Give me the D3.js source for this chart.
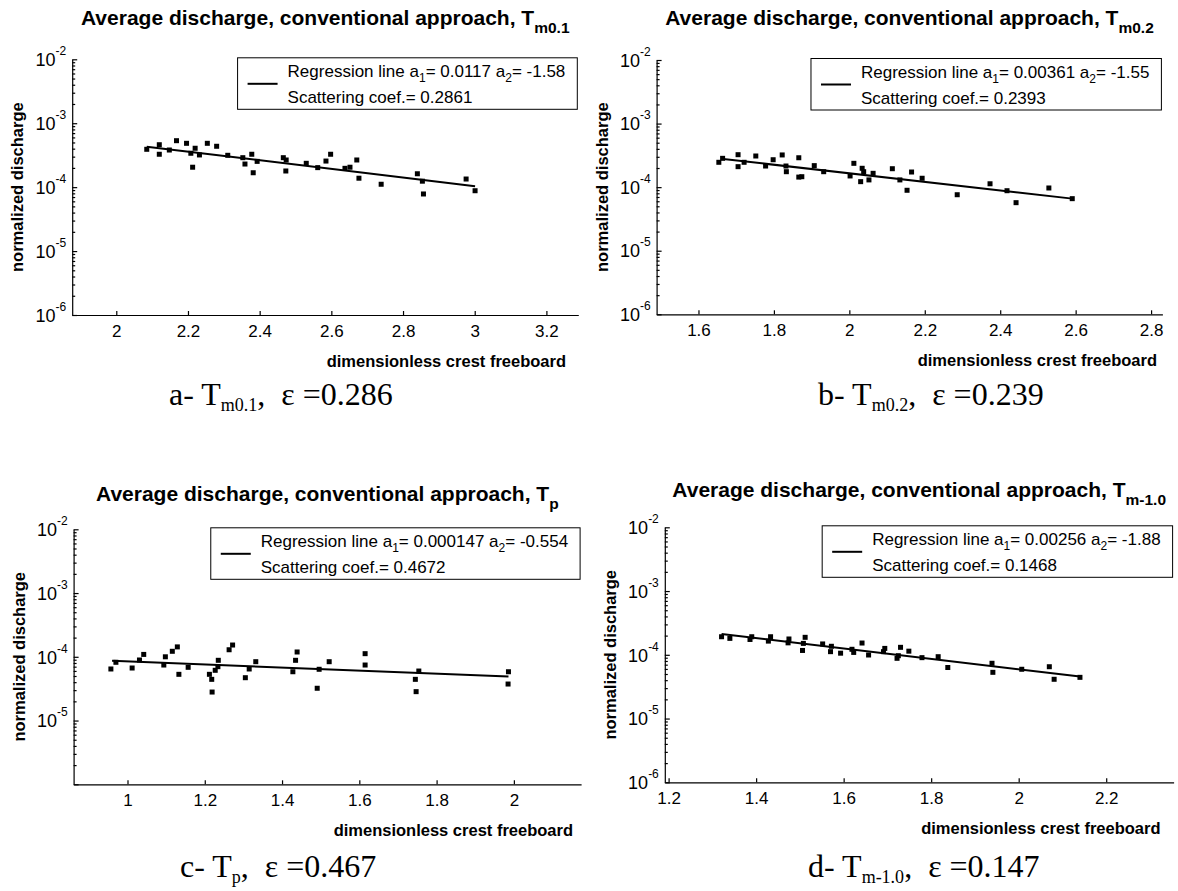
<!DOCTYPE html>
<html>
<head>
<meta charset="utf-8">
<script src="https://cdn.jsdelivr.net/npm/d3@7"></script>
<style>
body { margin: 0; background: #fff; }
svg text { font-family: Arial, "Liberation Sans", sans-serif; fill: #000; }
svg text.caption { font-family: "Liberation Serif", "DejaVu Serif", serif; }
</style>
</head>
<body>
<svg id="chart" width="1178" height="891"></svg>
<script>
// labels per panel (a, b, c, d)
var captionLetters = ["a", "b", "c", "d"]
var periodSubs = ["m0.1", "m0.2", "p", "m-1.0"]
var epsilonValues = ["0.286", "0.239", "0.467", "0.147"]
var a1Values = ["0.0117", "0.00361", "0.000147", "0.00256"]
var a2Values = ["-1.58", "-1.55", "-0.554", "-1.88"]
var scatterValues = ["0.2861", "0.2393", "0.4672", "0.1468"]

// x tick values
var xTicksA = [2, 2.2, 2.4, 2.6, 2.8, 3, 3.2]
var xTicksB = [1.6, 1.8, 2, 2.2, 2.4, 2.6, 2.8]
var xTicksC = [1, 1.2, 1.4, 1.6, 1.8, 2]
var xTicksD = [1.2, 1.4, 1.6, 1.8, 2, 2.2]

// exponents of the labelled y ticks (panel c has no 10^-6 label)
var yLabelsFull = [-6, -5, -4, -3, -2]
var yLabelsC = [-5, -4, -3, -2]

// measurements [dimensionless crest freeboard, normalized discharge]
var pointsA = [
  [2.085, 3.91e-4], [2.120, 4.61e-4], [2.120, 3.27e-4], [2.148, 3.81e-4], [2.168, 5.33e-4],
  [2.196, 4.85e-4], [2.208, 3.39e-4], [2.220, 4.06e-4], [2.213, 2.05e-4], [2.232, 3.19e-4],
  [2.254, 4.85e-4], [2.280, 4.36e-4], [2.311, 3.15e-4], [2.353, 2.89e-4], [2.359, 2.30e-4],
  [2.378, 3.27e-4], [2.382, 1.68e-4], [2.393, 2.53e-4], [2.466, 2.89e-4], [2.474, 2.66e-4],
  [2.473, 1.79e-4], [2.530, 2.36e-4], [2.562, 2.02e-4], [2.585, 2.56e-4], [2.598, 3.27e-4],
  [2.638, 1.97e-4], [2.652, 2.05e-4], [2.671, 2.66e-4], [2.677, 1.38e-4], [2.739, 1.11e-4],
  [2.840, 1.62e-4], [2.854, 1.24e-4], [2.857, 7.82e-5], [2.976, 1.34e-4], [3.001, 8.79e-5]
]
var pointsB = [
  [1.654, 2.46e-4], [1.664, 2.84e-4], [1.705, 3.24e-4], [1.705, 2.10e-4], [1.721, 2.46e-4],
  [1.752, 3.09e-4], [1.778, 2.15e-4], [1.798, 2.70e-4], [1.822, 3.21e-4], [1.832, 2.15e-4],
  [1.833, 1.75e-4], [1.866, 2.90e-4], [1.866, 1.44e-4], [1.874, 1.46e-4], [1.907, 2.18e-4],
  [1.932, 1.75e-4], [2.002, 1.50e-4], [2.012, 2.37e-4], [2.030, 1.22e-4], [2.034, 1.98e-4],
  [2.038, 1.75e-4], [2.052, 1.30e-4], [2.063, 1.65e-4], [2.114, 1.95e-4], [2.134, 1.30e-4],
  [2.153, 8.93e-5], [2.165, 1.73e-4], [2.193, 1.38e-4], [2.286, 7.60e-5], [2.373, 1.13e-4],
  [2.418, 8.79e-5], [2.442, 5.70e-5], [2.529, 9.70e-5], [2.591, 6.59e-5]
]
var pointsC = [
  [0.957, 6.44e-5], [0.970, 8.20e-5], [1.012, 6.67e-5], [1.031, 8.91e-5], [1.042, 1.09e-4],
  [1.094, 7.43e-5], [1.098, 1.00e-4], [1.116, 1.22e-4], [1.129, 1.43e-4], [1.133, 5.31e-5],
  [1.157, 6.84e-5], [1.212, 5.31e-5], [1.218, 4.43e-5], [1.219, 2.80e-5], [1.227, 6.14e-5],
  [1.234, 7.00e-5], [1.235, 8.81e-5], [1.263, 1.29e-4], [1.272, 1.53e-4], [1.305, 4.70e-5],
  [1.315, 6.44e-5], [1.332, 8.38e-5], [1.428, 5.83e-5], [1.435, 8.81e-5], [1.439, 1.19e-4],
  [1.491, 3.21e-5], [1.496, 6.37e-5], [1.522, 8.38e-5], [1.615, 1.12e-4], [1.615, 7.43e-5],
  [1.745, 4.43e-5], [1.747, 2.84e-5], [1.754, 5.98e-5], [1.986, 5.83e-5], [1.985, 3.74e-5]
]
var pointsD = [
  [1.321, 1.92e-4], [1.340, 1.81e-4], [1.386, 1.74e-4], [1.390, 1.92e-4], [1.428, 1.64e-4],
  [1.433, 1.92e-4], [1.473, 1.54e-4], [1.475, 1.77e-4], [1.506, 1.17e-4], [1.512, 1.88e-4],
  [1.508, 1.51e-4], [1.552, 1.48e-4], [1.570, 1.12e-4], [1.572, 1.36e-4], [1.593, 1.06e-4],
  [1.619, 1.22e-4], [1.623, 1.09e-4], [1.642, 1.53e-4], [1.657, 9.93e-5], [1.691, 1.12e-4],
  [1.694, 1.26e-4], [1.722, 8.81e-5], [1.725, 9.68e-5], [1.730, 1.31e-4], [1.749, 1.14e-4],
  [1.779, 9.02e-5], [1.816, 9.34e-5], [1.838, 6.32e-5], [1.939, 7.36e-5], [1.941, 5.31e-5],
  [2.007, 5.93e-5], [2.070, 6.50e-5], [2.081, 4.13e-5], [2.140, 4.43e-5]
]

// regression line end points
var lineA = [[2.085, 4.30e-4], [3.001, 1.03e-4]]
var lineB = [[1.660, 2.80e-4], [2.591, 6.60e-5]]
var lineC = [[0.960, 8.65e-5], [1.986, 4.90e-5]]
var lineD = [[1.321, 2.12e-4], [2.140, 4.55e-5]]

// layout of the four axes (pixel positions and x limits)
var panels = [
  {left: 72.2, top: 59.3, right: 578.3, bottom: 315, xDomain: [1.877, 3.289], titleY: 25, xlabelRight: 566, capX: 169, capY: 405,
   ticks: xTicksA, yLabels: yLabelsFull, points: pointsA, line: lineA},
  {left: 656.6, top: 60, right: 1162.4, bottom: 314.3, xDomain: [1.489, 2.83], titleY: 25, xlabelRight: 1157, capX: 818, capY: 405,
   ticks: xTicksB, yLabels: yLabelsFull, points: pointsB, line: lineB},
  {left: 73.6, top: 529.3, right: 581.1, bottom: 784.3, xDomain: [0.8605, 2.174], titleY: 501, xlabelRight: 573, capX: 180, capY: 877,
   ticks: xTicksC, yLabels: yLabelsC, points: pointsC, line: lineC},
  {left: 664.8, top: 527.3, right: 1173.6, bottom: 782.3, xDomain: [1.1913, 2.354], titleY: 497, xlabelRight: 1160.5, capX: 808, capY: 877,
   ticks: xTicksD, yLabels: yLabelsFull, points: pointsD, line: lineD}
]

var svg = d3.select("#chart")

// all log ticks 1..9 per decade
var logTicks = []
for (var e = -6; e < -2; e++) {
  for (var k = 1; k <= 9; k++) logTicks.push(k * Math.pow(10, e))
}
logTicks.push(1e-2)

var drawPanel = function(p, i) {
  var g = svg.append("g")
  var x = d3.scaleLinear().domain(p.xDomain).range([p.left, p.right])
  var y = d3.scaleLog().domain([1e-6, 1e-2]).range([p.bottom, p.top])

  // y axis, ticks inside
  var yAxis = g.append("g")
      .attr("transform", "translate(" + p.left + ",0)")
      .call(d3.axisRight(y).tickValues(logTicks).tickSizeInner(3).tickSizeOuter(0).tickFormat(""))
  yAxis.selectAll(".tick line")
      .attr("x2", function(d) { return Math.abs(Math.log10(d) - Math.round(Math.log10(d))) < 1e-9 ? 5 : 3 })
  yAxis.selectAll("path, line").attr("stroke", "#000").attr("stroke-width", 1.2)

  p.yLabels.forEach(function(ex) {
    var t = g.append("text")
        .attr("x", p.left - 6)
        .attr("y", y(Math.pow(10, ex)) + 6.7)
        .attr("text-anchor", "end")
        .attr("font-size", "18px")
    t.append("tspan").text("10")
    t.append("tspan").attr("dy", -11).attr("font-size", "12px").text(ex)
  })

  // x axis, ticks inside
  var xAxis = g.append("g")
      .attr("transform", "translate(0," + p.bottom + ")")
      .call(d3.axisBottom(x).tickValues(p.ticks).tickSizeInner(-4).tickSizeOuter(0).tickPadding(10)
        .tickFormat(function(d) { return String(d) }))
  xAxis.selectAll("path, line").attr("stroke", "#000").attr("stroke-width", 1.2)
  xAxis.selectAll("text").attr("font-size", "17px")

  // regression line
  g.append("path")
      .datum(p.line)
      .attr("fill", "none")
      .attr("stroke", "#000")
      .attr("stroke-width", 2)
      .attr("d", d3.line().x(function(d) { return x(d[0]) }).y(function(d) { return y(d[1]) }))

  // measurements
  g.selectAll("rect.pt")
    .data(p.points)
    .enter().append("rect")
      .attr("class", "pt")
      .attr("x", function(d) { return x(d[0]) - 2.5 })
      .attr("y", function(d) { return y(d[1]) - 2.5 })
      .attr("width", 5)
      .attr("height", 5)
      .attr("fill", "#000")

  // title
  var title = g.append("text")
      .attr("x", (p.left + p.right) / 2)
      .attr("y", p.titleY)
      .attr("text-anchor", "middle")
      .attr("font-weight", "bold")
      .attr("font-size", "21px")
  title.append("tspan").text("Average discharge, conventional approach, T")
  title.append("tspan").attr("dy", 8).attr("font-size", "15.5px").text(periodSubs[i])

  // axis labels
  g.append("text")
      .attr("transform", "translate(" + (p.left - 49) + "," + ((p.top + p.bottom) / 2) + ") rotate(-90)")
      .attr("text-anchor", "middle")
      .attr("font-weight", "bold")
      .attr("font-size", "16.5px")
      .text("normalized discharge")
  g.append("text")
      .attr("x", p.xlabelRight)
      .attr("y", p.bottom + 52)
      .attr("text-anchor", "end")
      .attr("font-weight", "bold")
      .attr("font-size", "16.5px")
      .text("dimensionless crest freeboard")

  // legend, top right inside the axes
  var leg = g.append("g")
  var box = leg.append("rect")
  var t1 = leg.append("text").attr("font-size", "17px")
  t1.append("tspan").text("Regression line a")
  t1.append("tspan").attr("dy", 5).attr("font-size", "12px").text("1")
  t1.append("tspan").attr("dy", -5).text("= " + a1Values[i] + " a")
  t1.append("tspan").attr("dy", 5).attr("font-size", "12px").text("2")
  t1.append("tspan").attr("dy", -5).text("= " + a2Values[i])
  var t2 = leg.append("text").attr("font-size", "17px").text("Scattering coef.= " + scatterValues[i])
  var textW = Math.max(t1.node().getComputedTextLength(), t2.node().getComputedTextLength())
  var boxW = 50 + textW + 12
  var bx = p.right - 1 - boxW
  var by = p.top - 1.5
  box.attr("x", bx).attr("y", by).attr("width", boxW).attr("height", 51.5)
     .attr("fill", "#fff").attr("stroke", "#000").attr("stroke-width", 1)
  leg.append("line")
      .attr("x1", bx + 10).attr("x2", bx + 40)
      .attr("y1", by + 26).attr("y2", by + 26)
      .attr("stroke", "#000").attr("stroke-width", 2)
  t1.attr("x", bx + 50).attr("y", by + 19)
  t2.attr("x", bx + 50).attr("y", by + 45)

  // caption under the panel
  var cap = g.append("text")
      .attr("class", "caption")
      .attr("x", p.capX)
      .attr("y", p.capY)
      .attr("font-size", "32px")
      .style("white-space", "pre")
  cap.append("tspan").text(captionLetters[i] + "- T")
  cap.append("tspan").attr("dy", 6).attr("font-size", "18px").text(periodSubs[i])
  cap.append("tspan").attr("dy", -6).text(",  \u03b5 =" + epsilonValues[i])
}

panels.forEach(drawPanel)
</script>
</body>
</html>
